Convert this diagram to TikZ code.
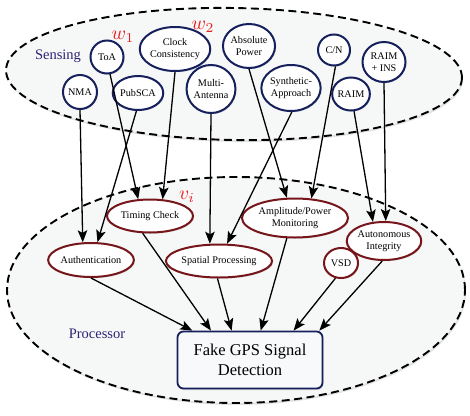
\documentclass[tikz,border=0pt]{standalone}
\usepackage{fontspec}
\setmainfont{Liberation Serif}
\usetikzlibrary{shapes.geometric,arrows.meta,shadows}
\definecolor{navyb}{RGB}{22,32,92}
\definecolor{redb}{RGB}{118,22,26}
\definecolor{zonefill}{RGB}{246,247,247}
\definecolor{boxfill}{RGB}{248,249,250}
\definecolor{labnavy}{RGB}{45,35,115}
\definecolor{wred}{RGB}{235,30,30}
\begin{document}
\begin{tikzpicture}[x=1pt,y=-1pt,
  zone/.style={ellipse, draw=black, dash pattern=on 8pt off 4.5pt, line width=1.9pt,
    fill=zonefill, inner sep=0pt,
    drop shadow={opacity=0.22, shadow xshift=1pt, shadow yshift=-2pt}},
  sens/.style={ellipse, draw=navyb, line width=2pt, fill=white, inner sep=0pt,
    align=center, font=\fontsize{10.2}{12.5}\selectfont,
    drop shadow={opacity=0.25, shadow xshift=1pt, shadow yshift=-1.2pt}},
  proc/.style={sens, draw=redb},
  fakebox/.style={rectangle, rounded corners=6pt, draw=navyb, line width=1.8pt,
    fill=boxfill, align=center, font=\fontsize{16.5}{20}\selectfont,
    drop shadow={opacity=0.25, shadow xshift=1pt, shadow yshift=-1.5pt}},
  arr/.style={-{Stealth[length=12pt,width=9.5pt,inset=2.5pt]}, line width=1.3pt},
  wlab/.style={text=wred},
  zlab/.style={text=labnavy, font=\fontsize{14.5}{15}\selectfont}
]
\useasboundingbox (0,0) rectangle (470,415);

% zones
\node[zone, minimum width=456pt, minimum height=132pt, rotate=-1] (sensing) at (234,74) {};
\node[zone, minimum width=458pt, minimum height=226pt] (processor) at (236,290) {};

% zone labels
\node[zlab] (senslab) at (58,56) {Sensing};
\node[zlab] (proclab) at (97,334) {Processor};
\node[wlab] (w1) at (123,37) {\scalebox{1.95}{$w_1$}};
\node[wlab] (w2) at (203,27) {\scalebox{1.95}{$w_2$}};
\node[wlab] (vi) at (187,197) {\scalebox{1.95}{$v_i$}};

% sensing nodes
\node[sens, minimum width=33pt, minimum height=33pt] (toa) at (107,57) {ToA};
\node[sens, minimum width=60pt, minimum height=44pt] (clock) at (175,49) {Clock\\Consistency};
\node[sens, minimum width=34pt, minimum height=34pt] (nma) at (80,92) {NMA};
\node[sens, minimum width=47pt, minimum height=34pt] (pub) at (138,93) {PubSCA};
\node[sens, minimum width=48pt, minimum height=48pt] (multi) at (211,89) {Multi-\\Antenna};
\node[sens, minimum width=48pt, minimum height=44pt] (abs) at (249,46) {Absolute\\Power};
\node[sens, minimum width=58pt, minimum height=46pt] (synth) at (291,88) {Synthetic-\\Approach};
\node[sens, minimum width=32pt, minimum height=31pt] (cn) at (334,50) {C/N};
\node[sens, minimum width=37pt, minimum height=33pt] (raim) at (351,94) {RAIM};
\node[sens, minimum width=43pt, minimum height=40pt] (ins) at (384,62) {RAIM\\+ INS};

% processor nodes
\node[proc, minimum width=86pt, minimum height=33pt] (timing) at (150,216) {Timing Check};
\node[proc, minimum width=78pt, minimum height=34pt] (auth) at (91,260) {Authentication};
\node[proc, minimum width=88pt, minimum height=33pt] (spatial) at (219,261) {Spatial Processing};
\node[proc, minimum width=106pt, minimum height=39pt] (amp) at (295,218) {Amplitude/Power\\Monitoring};
\node[proc, minimum width=72pt, minimum height=38pt] (auto) at (384,241) {Autonomous\\Integrity};
\node[proc, minimum width=34pt, minimum height=30pt] (vsd) at (341,263) {VSD};
\node[fakebox, minimum width=145pt, minimum height=57pt] (fake) at (250,360) {Fake GPS Signal\\Detection};

% sensing -> processor
\draw[arr] (nma.270) -- (auth.115);
\draw[arr] (toa.-80) -- (timing.125);
\draw[arr] (pub.265) -- (auth.70);
\draw[arr] (clock.270) -- (timing.53);
\draw[arr] (multi.270) -- (spatial.118);
\draw[arr] (synth.272) -- (spatial.65);
\draw[arr] (abs.270) -- (amp.112);
\draw[arr] (cn.-85) -- (amp.50);
\draw[arr] (raim.-80) -- (auto.120);
\draw[arr] (ins.270) -- (auto.85);

% processor -> detection
\draw[arr] (auth.270) -- (fake.153.8);
\draw[arr] (timing.-113) -- (fake.143.1);
\draw[arr] (spatial.-95) -- (fake.122.3);
\draw[arr] (amp.-112) -- (fake.70.7);
\draw[arr] (vsd.-110) -- (fake.34.2);
\draw[arr] (auto.265) -- (fake.23);
\end{tikzpicture}
\end{document}
